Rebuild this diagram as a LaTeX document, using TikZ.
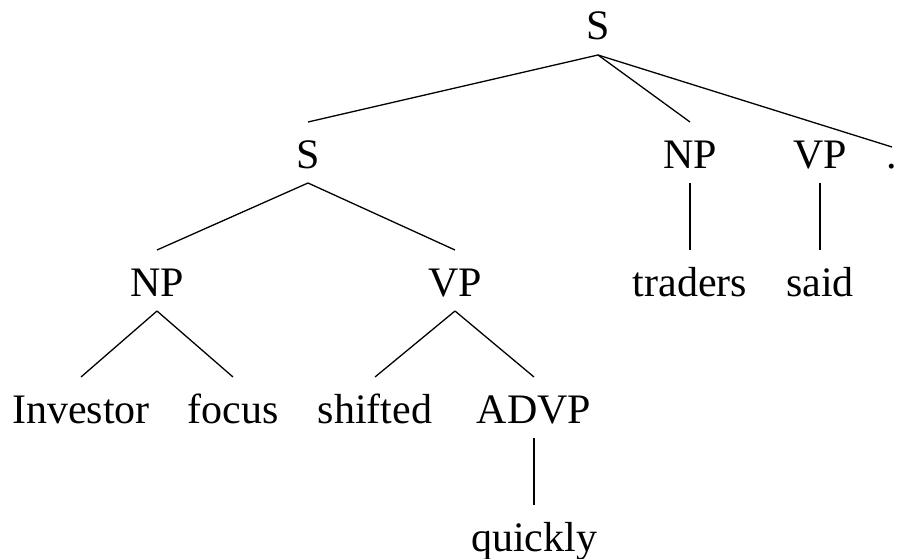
\documentclass[tikz,border=0pt]{standalone}
\usepackage{fontspec}
\setmainfont{Liberation Serif}
\begin{document}
\begin{tikzpicture}[x=1pt,y=-1pt,
  lab/.style={font=\fontsize{42}{50}\selectfont, inner sep=0pt, anchor=base},
  branch/.style={line width=1.3pt}]
\useasboundingbox (0,0) rectangle (897,559);
% labels, placed on their baselines
\node[lab] (root) at (598,40) {S};
\node[lab] (s2)   at (308,168) {S};
\node[lab] (np1)  at (690,168) {NP};
\node[lab] (vp1)  at (820,168) {VP};
\node[lab] (dot)  at (892,168) {.};
\node[lab] (np2)  at (157,296) {NP};
\node[lab] (vp2)  at (455,296) {VP};
\node[lab] (tr)   at (690,296) {traders};
\node[lab] (sd)   at (820,296) {said};
\node[lab] (inv)  at (81,423)  {Investor};
\node[lab] (foc)  at (233,423) {focus};
\node[lab] (shf)  at (375,423) {shifted};
\node[lab] (advp) at (534,423) {ADVP};
\node[lab] (qk)   at (534,551) {quickly};
% branches: from under a parent to above a child
\foreach \p/\c in {root/s2, root/np1, s2/np2, s2/vp2, np1/tr, vp1/sd,
                   np2/inv, np2/foc, vp2/shf, vp2/advp, advp/qk}
  \draw[branch] ([yshift=-15pt]\p.base) -- ([yshift=46pt]\c.base);
\draw[branch] ([yshift=-15pt]root.base) -- ([yshift=21pt]dot.base);
\end{tikzpicture}
\end{document}
